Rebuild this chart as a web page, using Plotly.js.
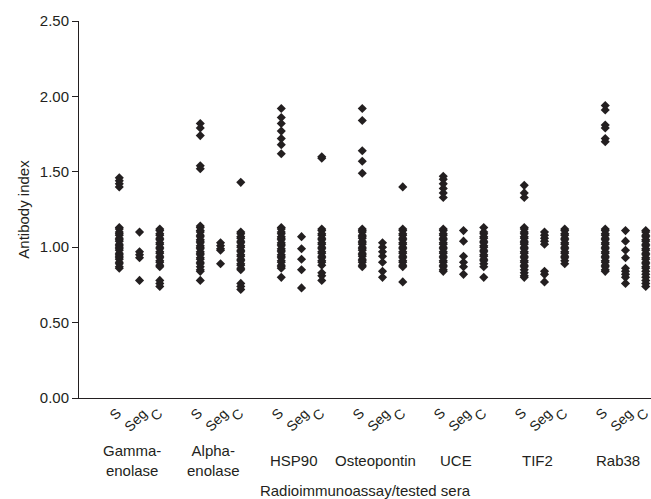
<!DOCTYPE html>
<html>
<head>
<meta charset="utf-8">
<script src="https://cdn.plot.ly/plotly-3.0.1.min.js"></script>
<style>html,body{margin:0;padding:0;background:#fff;}#chart{width:651px;height:499px;}</style>
</head>
<body>
<div id="chart"></div>
<script>
// ---- data ----
var groups = ['Gamma-<br>enolase', 'Alpha-<br>enolase', 'HSP90', 'Osteopontin', 'UCE', 'TIF2', 'Rab38'];
var subLabels = ['S', 'Seg', 'C'];
var yTickVals = [0, 0.5, 1.0, 1.5, 2.0, 2.5];

var gammaS = [1.46,1.44,1.42,1.40,1.13,1.12,1.10,1.09,1.08,1.06,1.05,1.04,1.02,1.01,1.00,0.99,0.98,0.96,0.95,0.94,0.93,0.92,0.90,0.89,0.87,0.86];
var gammaSeg = [1.10,0.97,0.95,0.93,0.78];
var gammaC = [1.12,1.11,1.09,1.08,1.06,1.05,1.03,1.02,1.00,0.99,0.97,0.96,0.94,0.93,0.91,0.90,0.88,0.87,0.78,0.76,0.74];

var alphaS = [1.82,1.79,1.74,1.54,1.52,1.14,1.13,1.11,1.10,1.08,1.07,1.05,1.04,1.03,1.01,1.00,0.99,0.97,0.96,0.95,0.93,0.92,0.90,0.89,0.87,0.85,0.84,0.78];
var alphaSeg = [1.03,1.01,0.99,0.98,0.89];
var alphaC = [1.43,1.10,1.09,1.07,1.06,1.04,1.03,1.01,1.00,0.98,0.97,0.95,0.94,0.92,0.91,0.89,0.88,0.86,0.85,0.76,0.74,0.72];

var hspS = [1.92,1.86,1.82,1.77,1.72,1.68,1.62,1.13,1.12,1.10,1.09,1.07,1.06,1.05,1.03,1.02,1.01,0.99,0.98,0.97,0.95,0.94,0.93,0.91,0.90,0.88,0.87,0.86,0.80];
var hspSeg = [1.07,0.99,0.92,0.85,0.73];
var hspC = [1.60,1.59,1.12,1.11,1.09,1.08,1.06,1.05,1.03,1.02,1.00,0.99,0.97,0.96,0.94,0.93,0.91,0.90,0.88,0.83,0.81,0.78];

var ostS = [1.92,1.84,1.64,1.57,1.49,1.12,1.11,1.10,1.08,1.07,1.06,1.04,1.03,1.02,1.00,0.99,0.98,0.96,0.95,0.94,0.92,0.91,0.90,0.88,0.87];
var ostSeg = [1.03,1.00,0.97,0.94,0.90,0.84,0.80];
var ostC = [1.40,1.12,1.11,1.09,1.08,1.06,1.05,1.03,1.02,1.00,0.99,0.97,0.96,0.94,0.93,0.91,0.90,0.88,0.87,0.77];

var uceS = [1.47,1.45,1.42,1.39,1.36,1.33,1.12,1.11,1.09,1.08,1.06,1.05,1.03,1.02,1.00,0.99,0.97,0.96,0.94,0.93,0.91,0.90,0.88,0.87,0.85,0.84];
var uceSeg = [1.11,1.04,0.94,0.90,0.87,0.82];
var uceC = [1.13,1.10,1.09,1.07,1.06,1.04,1.03,1.01,1.00,0.98,0.97,0.95,0.94,0.92,0.91,0.89,0.87,0.80];

var tifS = [1.41,1.36,1.33,1.13,1.12,1.10,1.09,1.07,1.06,1.04,1.03,1.02,1.00,0.99,0.97,0.96,0.94,0.93,0.91,0.90,0.88,0.87,0.85,0.83,0.81,0.80];
var tifSeg = [1.10,1.08,1.06,1.04,1.02,0.84,0.82,0.77];
var tifC = [1.12,1.11,1.09,1.08,1.06,1.05,1.03,1.02,1.00,0.99,0.97,0.96,0.94,0.93,0.91,0.89];

var rabS = [1.94,1.91,1.81,1.79,1.72,1.70,1.12,1.11,1.09,1.08,1.06,1.05,1.03,1.02,1.00,0.99,0.97,0.96,0.94,0.93,0.91,0.90,0.88,0.87,0.85,0.84];
var rabSeg = [1.11,1.04,0.98,0.93,0.86,0.84,0.82,0.80,0.76];
var rabC = [1.11,1.10,1.08,1.07,1.05,1.04,1.02,1.01,0.99,0.98,0.96,0.95,0.93,0.92,0.90,0.89,0.87,0.86,0.84,0.82,0.80,0.78,0.76,0.74];

var seriesByGroup = [
  [gammaS, gammaSeg, gammaC],
  [alphaS, alphaSeg, alphaC],
  [hspS, hspSeg, hspC],
  [ostS, ostSeg, ostC],
  [uceS, uceSeg, uceC],
  [tifS, tifSeg, tifC],
  [rabS, rabSeg, rabC]
];

// ---- build ----
var ink = '#231f20';
var fontFam = '"Liberation Sans", Arial, Helvetica, sans-serif';
var GROUP_STEP = 4;

var xs = [], ys = [];
seriesByGroup.forEach(function (g, gi) {
  g.forEach(function (vals, si) {
    vals.forEach(function (v) { xs.push(gi * GROUP_STEP + si); ys.push(v); });
  });
});

var traces = [{
  type: 'scatter', mode: 'markers', x: xs, y: ys,
  marker: { symbol: 'diamond', size: 7, color: ink, line: { width: 0 } },
  cliponaxis: false, hoverinfo: 'y', showlegend: false
}];

var plotH = 499 - 21 - 101;
function py(pix) { return (398 - pix) / plotH; }

var annotations = [];
groups.forEach(function (name, gi) {
  subLabels.forEach(function (lab, si) {
    annotations.push({
      x: gi * GROUP_STEP + si, xref: 'x', y: py(404), yref: 'paper',
      text: lab, showarrow: false, textangle: -45,
      xanchor: 'center', yanchor: 'top', xshift: -4, borderpad: 0,
      font: { family: fontFam, size: 14, color: ink }
    });
  });
  annotations.push({
    x: gi * GROUP_STEP + 0.65, xref: 'x', y: py(460), yref: 'paper',
    text: name, showarrow: false, xanchor: 'center', yanchor: 'middle',
    font: { family: fontFam, size: 15, color: ink }
  });
});

var layout = {
  width: 651, height: 499,
  margin: { l: 79, r: 0, t: 21, b: 101 },
  paper_bgcolor: '#fff', plot_bgcolor: '#fff',
  font: { family: fontFam, size: 15, color: ink },
  showlegend: false,
  xaxis: {
    range: [-1.99, 26.26], showgrid: false, zeroline: false,
    showline: true, linecolor: ink, linewidth: 1,
    ticks: '', showticklabels: false, fixedrange: true,
    title: { text: 'Radioimmunoassay/tested sera', standoff: 89,
             font: { family: fontFam, size: 15, color: ink } },
    automargin: false
  },
  yaxis: {
    range: [0, 2.5], tickvals: yTickVals, tickformat: '.2f',
    showgrid: false, zeroline: false, showline: true, linecolor: ink, linewidth: 1,
    ticks: 'outside', ticklen: 6, tickcolor: ink, tickwidth: 1,
    tickfont: { family: fontFam, size: 15, color: ink },
    title: { text: 'Antibody index', standoff: 6,
             font: { family: fontFam, size: 15, color: ink } },
    automargin: false, fixedrange: true
  },
  annotations: annotations
};

Plotly.newPlot('chart', traces, layout, { displayModeBar: false, staticPlot: true });
</script>
</body>
</html>
